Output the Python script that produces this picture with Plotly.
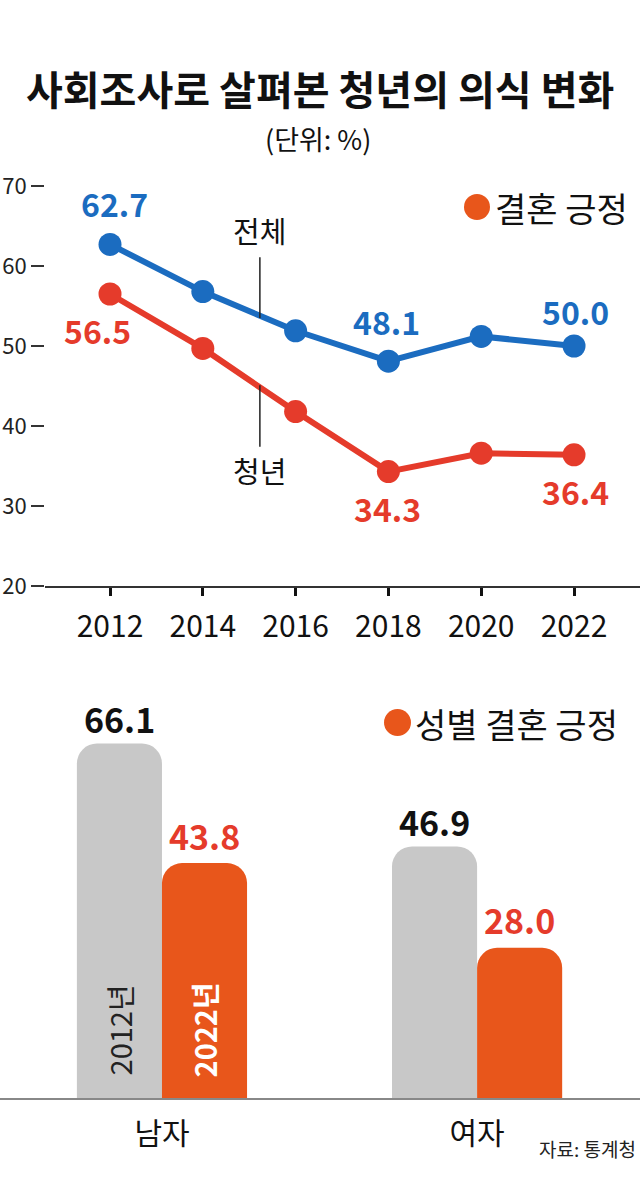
import plotly.graph_objects as go

# ---- data ----
years = [2012, 2014, 2016, 2018, 2020, 2022]
total = [62.7, 56.8, 51.9, 48.1, 51.2, 50.0]      # 전체
youth = [56.5, 49.7, 41.8, 34.3, 36.6, 36.4]      # 청년
y_ticks = [20, 30, 40, 50, 60, 70]

genders = ["남자", "여자"]
val_2012 = [66.1, 46.9]
val_2022 = [43.8, 28.0]

BLUE = "#1b6cc0"
RED = "#e53b2b"
ORANGE = "#e8561b"
GRAY = "#c8c8c8"
FONT = "Noto Sans CJK KR"

W, H = 640, 1180
def px(x): return x / W
def py(y): return 1 - y / H

fig = go.Figure()

# ---- line chart ----
fig.add_trace(go.Scatter(x=years, y=total, mode="lines+markers",
                         line=dict(color=BLUE, width=6),
                         marker=dict(color=BLUE, size=23),
                         xaxis="x", yaxis="y", cliponaxis=False, showlegend=False))
fig.add_trace(go.Scatter(x=years, y=youth, mode="lines+markers",
                         line=dict(color=RED, width=6),
                         marker=dict(color=RED, size=23),
                         xaxis="x", yaxis="y", cliponaxis=False, showlegend=False))

# ---- bar chart ----
fig.add_trace(go.Bar(x=genders, y=val_2012, marker=dict(color=GRAY, line=dict(width=0)),
                     xaxis="x2", yaxis="y2", showlegend=False, offsetgroup="a"))
fig.add_trace(go.Bar(x=genders, y=val_2022, marker=dict(color=ORANGE, line=dict(width=0)),
                     xaxis="x2", yaxis="y2", showlegend=False, offsetgroup="b"))

ann = []
# title
ann.append(dict(text="<b>사회조사로 살펴본 청년의 의식 변화</b>", x=px(320), y=py(88),
                xref="paper", yref="paper", showarrow=False, xanchor="center", yanchor="middle",
                font=dict(size=40, color="#111", family=FONT)))
ann.append(dict(text="(단위: %)", x=px(318), y=py(138), xref="paper", yref="paper",
                showarrow=False, xanchor="center", yanchor="middle",
                font=dict(size=27, color="#111", family=FONT)))

# line value labels
def lab(xv, yv, color, xs, ys):
    ann.append(dict(text="<b>%.1f</b>" % yv, x=xv, y=yv, xref="x", yref="y", showarrow=False,
                    xanchor="center", yanchor="middle", xshift=xs, yshift=ys,
                    font=dict(size=32, color=color, family=FONT)))
lab(years[0], total[0], BLUE, 4, 41)
lab(years[3], total[3], BLUE, -2, 40)
lab(years[5], total[5], BLUE, 1, 35)
lab(years[0], youth[0], RED, -13, -36)
lab(years[3], youth[3], RED, -1, -36)
lab(years[5], youth[5], RED, 1, -36)

# series name labels
ann.append(dict(text="전체", x=2015.23, y=64.5, xref="x", yref="y", showarrow=False,
                font=dict(size=29, color="#111", family=FONT)))
ann.append(dict(text="청년", x=2015.23, y=34.5, xref="x", yref="y", showarrow=False,
                font=dict(size=29, color="#111", family=FONT)))

# legends
ann.append(dict(text="결혼 긍정", x=px(493), y=py(207), xref="paper", yref="paper",
                showarrow=False, xanchor="left", yanchor="middle",
                font=dict(size=34, color="#111", family=FONT)))
ann.append(dict(text="성별 결혼 긍정", x=px(413), y=py(723), xref="paper", yref="paper",
                showarrow=False, xanchor="left", yanchor="middle",
                font=dict(size=34, color="#111", family=FONT)))

# bar labels
BW = 42.5
for i, g in enumerate(genders):
    ann.append(dict(text="<b>%.1f</b>" % val_2012[i], x=g, y=val_2012[i], xref="x2", yref="y2",
                    showarrow=False, xanchor="center", yanchor="middle", xshift=-BW, yshift=25,
                    font=dict(size=34, color="#111", family=FONT)))
    ann.append(dict(text="<b>%.1f</b>" % val_2022[i], x=g, y=val_2022[i], xref="x2", yref="y2",
                    showarrow=False, xanchor="center", yanchor="middle", xshift=BW, yshift=28,
                    font=dict(size=34, color=RED, family=FONT)))

ann.append(dict(text="2012년", x=genders[0], y=0, xref="x2", yref="y2", showarrow=False,
                textangle=-90, xanchor="center", yanchor="middle", xshift=-BW, yshift=68,
                font=dict(size=29, color="#222", family=FONT)))
ann.append(dict(text="<b>2022년</b>", x=genders[0], y=0, xref="x2", yref="y2", showarrow=False,
                textangle=-90, xanchor="center", yanchor="middle", xshift=BW, yshift=68,
                font=dict(size=29, color="white", family=FONT)))

ann.append(dict(text="자료: 통계청", x=px(638), y=py(1148), xref="paper", yref="paper",
                showarrow=False, xanchor="right", yanchor="middle",
                font=dict(size=19, color="#222", family=FONT)))

shapes = [
    dict(type="line", xref="x", yref="y", x0=2015.23, x1=2015.23, y0=61.1, y1=53.5,
         line=dict(color="#222", width=1.5)),
    dict(type="line", xref="x", yref="y", x0=2015.23, x1=2015.23, y0=45.1, y1=37.4,
         line=dict(color="#222", width=1.5)),
    dict(type="circle", xref="paper", yref="paper", x0=px(464), x1=px(490), y0=py(194), y1=py(220),
         fillcolor=ORANGE, line=dict(width=0)),
    dict(type="circle", xref="paper", yref="paper", x0=px(384), x1=px(411), y0=py(709), y1=py(736),
         fillcolor=ORANGE, line=dict(width=0)),
]

fig.update_layout(
    template="none",
    width=W, height=H, margin=dict(l=0, r=0, t=0, b=0, pad=0, autoexpand=False),
    paper_bgcolor="white", plot_bgcolor="white",
    font=dict(family=FONT, color="#111"),
    annotations=ann, shapes=shapes,
    barmode="group", bargap=0.46, bargroupgap=0, barcornerradius=20,
    xaxis=dict(domain=[px(45), 1], range=[2010.599, 2023.422], tickvals=years,
               ticktext=[str(y) for y in years], ticks="outside", ticklen=8, tickwidth=3,
               tickcolor="#111", showline=True, linecolor="#333", linewidth=1.5,
               showgrid=False, zeroline=False, ticklabelstandoff=5, automargin=False,
               tickfont=dict(size=30, color="#111", family=FONT), anchor="y", fixedrange=True),
    yaxis=dict(domain=[py(586), py(186)], range=[20, 70], tickvals=y_ticks,
               ticks="outside", ticklen=13, tickwidth=1.5, tickcolor="#333",
               showline=False, showgrid=False, zeroline=False, automargin=False,
               tickfont=dict(size=22, color="#222", family=FONT), anchor="x", fixedrange=True),
    xaxis2=dict(domain=[0, 1], range=[-0.514, 1.517], showline=True, linecolor="#888",
                linewidth=2, ticks="", showgrid=False, zeroline=False, ticklabelstandoff=8,
                automargin=False,
                tickfont=dict(size=30, color="#111", family=FONT), anchor="y2", fixedrange=True),
    yaxis2=dict(domain=[py(1098), py(669)], range=[0, 80], showticklabels=False,
                showgrid=False, zeroline=False, showline=False, ticks="", anchor="x2",
                automargin=False, fixedrange=True),
)

fig.write_html("out.html", config={"displayModeBar": False},
               post_script="document.body.style.margin='0';document.body.style.padding='0';")
